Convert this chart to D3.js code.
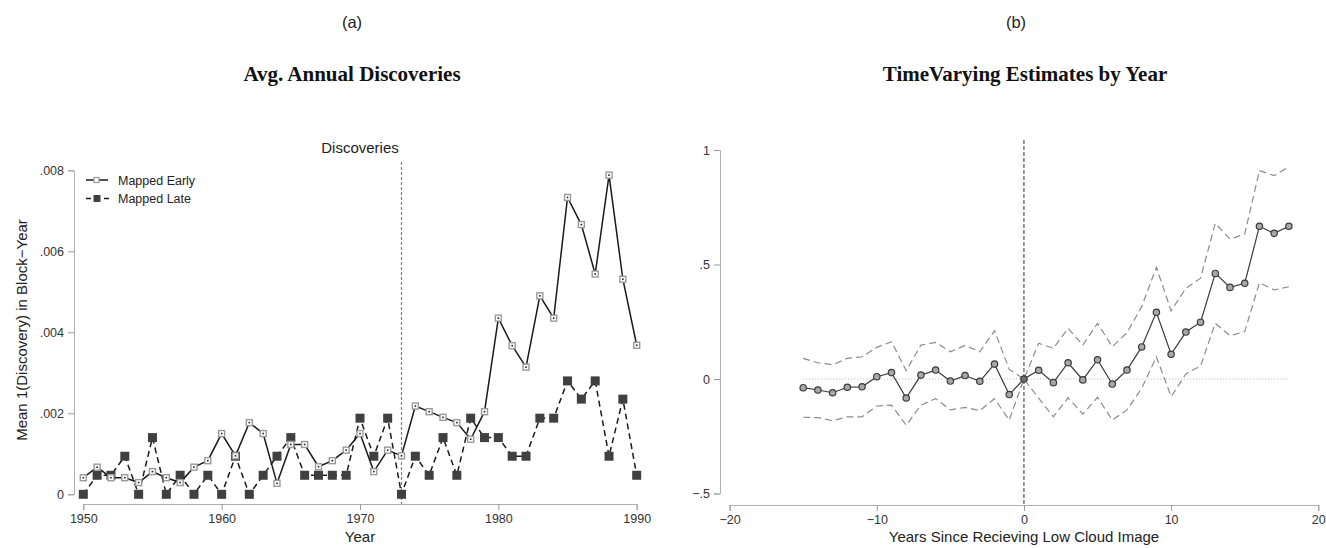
<!DOCTYPE html>
<html>
<head>
<meta charset="utf-8">
<script src="https://cdn.jsdelivr.net/npm/d3@7"></script>
<style>
  body { margin: 0; background: #fff; }
  svg { display: block; font-family: "Liberation Sans", Arial, sans-serif; }
  .axis path.domain { stroke: #b0b0b0; }
  .axis .tick line { stroke: #9a9a9a; }
  .axis .tick text { fill: #333; font-size: 12.5px; }
</style>
</head>
<body>
<svg id="chart" width="1326" height="548"></svg>
<script>
// panel (a): average annual discoveries
var years = [1950, 1951, 1952, 1953, 1954, 1955, 1956, 1957, 1958, 1959,
    1960, 1961, 1962, 1963, 1964, 1965, 1966, 1967, 1968, 1969,
    1970, 1971, 1972, 1973, 1974, 1975, 1976, 1977, 1978, 1979,
    1980, 1981, 1982, 1983, 1984, 1985, 1986, 1987, 1988, 1989, 1990];
var mappedEarly = [.00041, .00067, .00041, .00041, .00029, .00056, .00041, .00029, .00067, .00083,
    .0015, .00095, .00177, .0015, .00027, .00123, .00123, .00068, .00083, .00109,
    .0015, .00056, .00109, .00095, .00218, .00204, .0019, .00177, .00136, .00204,
    .00435, .00367, .00314, .0049, .00435, .00733, .00666, .00544, .00788, .00531, .00368];
var mappedLate = [0, .00047, .00047, .00094, 0, .0014, 0, .00047, 0, .00047,
    0, .00094, 0, .00047, .00094, .0014, .00047, .00047, .00047, .00047,
    .00188, .00094, .00188, 0, .00094, .00047, .0014, .00047, .00188, .0014,
    .0014, .00094, .00094, .00188, .00188, .0028, .00235, .0028, .00094, .00235, .00047];
var cutoffYear = 1973;
var yearTicks = [1950, 1960, 1970, 1980, 1990];
var discTicks = [0, .002, .004, .006, .008];

// panel (b): time varying estimates
var relYears = [-15, -14, -13, -12, -11, -10, -9, -8, -7, -6, -5, -4, -3, -2, -1, 0,
    1, 2, 3, 4, 5, 6, 7, 8, 9, 10, 11, 12, 13, 14, 15, 16, 17, 18];
var estimate = [-0.038, -0.048, -0.06, -0.036, -0.034, 0.01, 0.028, -0.083, 0.017, 0.039, -0.009, 0.015, -0.01, 0.065, -0.068, 0,
    0.038, -0.016, 0.071, -0.004, 0.084, -0.022, 0.039, 0.14, 0.291, 0.108, 0.205, 0.248, 0.461, 0.4, 0.418, 0.667, 0.636, 0.667];
var upperCI = [0.09, 0.071, 0.062, 0.09, 0.097, 0.138, 0.163, 0.036, 0.148, 0.16, 0.119, 0.147, 0.119, 0.211, 0.042, 0,
    0.156, 0.134, 0.221, 0.148, 0.243, 0.141, 0.202, 0.316, 0.488, 0.298, 0.396, 0.44, 0.68, 0.611, 0.633, 0.91, 0.888, 0.927];
var lowerCI = [-0.167, -0.169, -0.182, -0.165, -0.165, -0.118, -0.114, -0.202, -0.114, -0.086, -0.135, -0.124, -0.138, -0.086, -0.179, 0,
    -0.084, -0.165, -0.082, -0.153, -0.08, -0.179, -0.135, -0.041, 0.097, -0.077, 0.022, 0.057, 0.243, 0.189, 0.207, 0.42, 0.389, 0.403];
var relTicks = [-20, -10, 0, 10, 20];
var estTicks = [-.5, 0, .5, 1];

var svg = d3.select("#chart");

function shortNum(d) {
    if (d === 0) return "0";
    return String(d).replace("0.", ".").replace("-", "\u2212");
}

// headings
svg.append("text").attr("x", 352).attr("y", 28).attr("text-anchor", "middle")
    .style("font-size", "16.5px").style("fill", "#222").text("(a)");
svg.append("text").attr("x", 1016).attr("y", 28).attr("text-anchor", "middle")
    .style("font-size", "16.5px").style("fill", "#222").text("(b)");
svg.append("text").attr("x", 352).attr("y", 81).attr("text-anchor", "middle")
    .style("font-family", "'Liberation Serif', 'Times New Roman', serif")
    .style("font-weight", "bold").style("font-size", "21px").style("fill", "#111")
    .text("Avg. Annual Discoveries");
svg.append("text").attr("x", 1025).attr("y", 81).attr("text-anchor", "middle")
    .style("font-family", "'Liberation Serif', 'Times New Roman', serif")
    .style("font-weight", "bold").style("font-size", "21px").style("fill", "#111")
    .text("TimeVarying Estimates by Year");

//LEFT CHART
var xA = d3.scaleLinear().domain([1950, 1990]).range([83.3, 636.7]);
var yA = d3.scaleLinear().domain([0, .008]).range([494.3, 170.3]);

svg.append("g").attr("class", "axis")
    .attr("transform", "translate(74,0)")
    .call(d3.axisLeft(yA).tickValues(discTicks).tickSizeOuter(0).tickSize(6).tickPadding(4).tickFormat(shortNum));
svg.append("g").attr("class", "axis")
    .attr("transform", "translate(0,504)")
    .call(d3.axisBottom(xA).tickValues(yearTicks).tickSizeOuter(0).tickSize(6).tickPadding(4).tickFormat(d3.format("d")));

svg.append("text").attr("x", 360).attr("y", 153).attr("text-anchor", "middle")
    .style("font-size", "15px").style("fill", "#222").text("Discoveries");
svg.append("text").attr("x", 360).attr("y", 542).attr("text-anchor", "middle")
    .style("font-size", "15px").style("fill", "#222").text("Year");
svg.append("text").attr("transform", "translate(27,330) rotate(-90)").attr("text-anchor", "middle")
    .style("font-size", "15px").style("fill", "#222").text("Mean 1(Discovery) in Block\u2212Year");

svg.append("line")
    .attr("x1", xA(cutoffYear)).attr("x2", xA(cutoffYear))
    .attr("y1", 162).attr("y2", 504)
    .attr("stroke", "#808080").attr("stroke-width", 1.2).attr("stroke-dasharray", "3,2");

var lineA = d3.line().x(d => xA(d[0])).y(d => yA(d[1]));
var lateData = years.map((y, i) => [y, mappedLate[i]]);
var earlyData = years.map((y, i) => [y, mappedEarly[i]]);

svg.append("path").datum(lateData).attr("d", lineA)
    .attr("fill", "none").attr("stroke", "#1a1a1a").attr("stroke-width", 1.5).attr("stroke-dasharray", "6,4");
svg.selectAll(".late").data(lateData).enter().append("rect")
    .attr("class", "late")
    .attr("x", d => xA(d[0]) - 4.5).attr("y", d => yA(d[1]) - 4.5)
    .attr("width", 9).attr("height", 9).attr("fill", "#404040");

svg.append("path").datum(earlyData).attr("d", lineA)
    .attr("fill", "none").attr("stroke", "#1a1a1a").attr("stroke-width", 1.5);
svg.selectAll(".early").data(earlyData).enter().append("rect")
    .attr("class", "early")
    .attr("x", d => xA(d[0]) - 3).attr("y", d => yA(d[1]) - 3)
    .attr("width", 6).attr("height", 6)
    .attr("fill", "#fff").attr("stroke", "#9a9a9a").attr("stroke-width", 1.4);
svg.selectAll(".earlydot").data(earlyData).enter().append("rect")
    .attr("class", "earlydot")
    .attr("x", d => xA(d[0]) - 0.8).attr("y", d => yA(d[1]) - 0.8)
    .attr("width", 1.6).attr("height", 1.6).attr("fill", "#222");

// legend
var legend = svg.append("g");
legend.append("line").attr("x1", 86).attr("x2", 108).attr("y1", 180).attr("y2", 180)
    .attr("stroke", "#1a1a1a").attr("stroke-width", 1.5);
legend.append("rect").attr("x", 94).attr("y", 177.5).attr("width", 5).attr("height", 5)
    .attr("fill", "#fff").attr("stroke", "#9a9a9a").attr("stroke-width", 1.2);
legend.append("line").attr("x1", 86).attr("x2", 109).attr("y1", 198.5).attr("y2", 198.5)
    .attr("stroke", "#1a1a1a").attr("stroke-width", 1.5).attr("stroke-dasharray", "5,4");
legend.append("rect").attr("x", 93.5).attr("y", 195).attr("width", 7).attr("height", 7)
    .attr("fill", "#404040");
legend.append("text").attr("x", 118).attr("y", 184.5).style("font-size", "12.5px").style("fill", "#222").text("Mapped Early");
legend.append("text").attr("x", 118).attr("y", 203).style("font-size", "12.5px").style("fill", "#222").text("Mapped Late");

//RIGHT CHART
var xB = d3.scaleLinear().domain([-20, 20]).range([729.6, 1318.3]);
var yB = d3.scaleLinear().domain([-.5, 1]).range([493.5, 150]);

svg.append("g").attr("class", "axis")
    .attr("transform", "translate(720,0)")
    .call(d3.axisLeft(yB).tickValues(estTicks).tickSizeOuter(0).tickSize(6).tickPadding(4).tickFormat(shortNum));
svg.append("g").attr("class", "axis")
    .attr("transform", "translate(0,505)")
    .call(d3.axisBottom(xB).tickValues(relTicks).tickSizeOuter(0).tickSize(6).tickPadding(4).tickFormat(shortNum));

svg.append("text").attr("x", 1024).attr("y", 542).attr("text-anchor", "middle")
    .style("font-size", "15px").style("fill", "#222").text("Years Since Recieving Low Cloud Image");

svg.append("line")
    .attr("x1", xB(relYears[0])).attr("x2", xB(relYears[relYears.length - 1]))
    .attr("y1", yB(0)).attr("y2", yB(0))
    .attr("stroke", "#b5b5b5").attr("stroke-width", 1).attr("stroke-dasharray", "1,2");
svg.append("line")
    .attr("x1", xB(0)).attr("x2", xB(0))
    .attr("y1", 140).attr("y2", 505)
    .attr("stroke", "#555").attr("stroke-width", 1.2).attr("stroke-dasharray", "4,2");

var lineB = d3.line().x(d => xB(d[0])).y(d => yB(d[1]));
[upperCI, lowerCI].forEach(function (ci) {
    svg.append("path").datum(relYears.map((r, i) => [r, ci[i]])).attr("d", lineB)
        .attr("fill", "none").attr("stroke", "#8c8c8c").attr("stroke-width", 1.2).attr("stroke-dasharray", "7,4");
});
var estData = relYears.map((r, i) => [r, estimate[i]]);
svg.append("path").datum(estData).attr("d", lineB)
    .attr("fill", "none").attr("stroke", "#3a3a3a").attr("stroke-width", 1.2);
svg.selectAll(".est").data(estData).enter().append("circle")
    .attr("class", "est")
    .attr("cx", d => xB(d[0])).attr("cy", d => yB(d[1])).attr("r", 3.2)
    .attr("fill", d => d[0] === 0 ? "#707070" : "#a8a8a8")
    .attr("stroke", "#3a3a3a").attr("stroke-width", 1.2);
</script>
</body>
</html>
